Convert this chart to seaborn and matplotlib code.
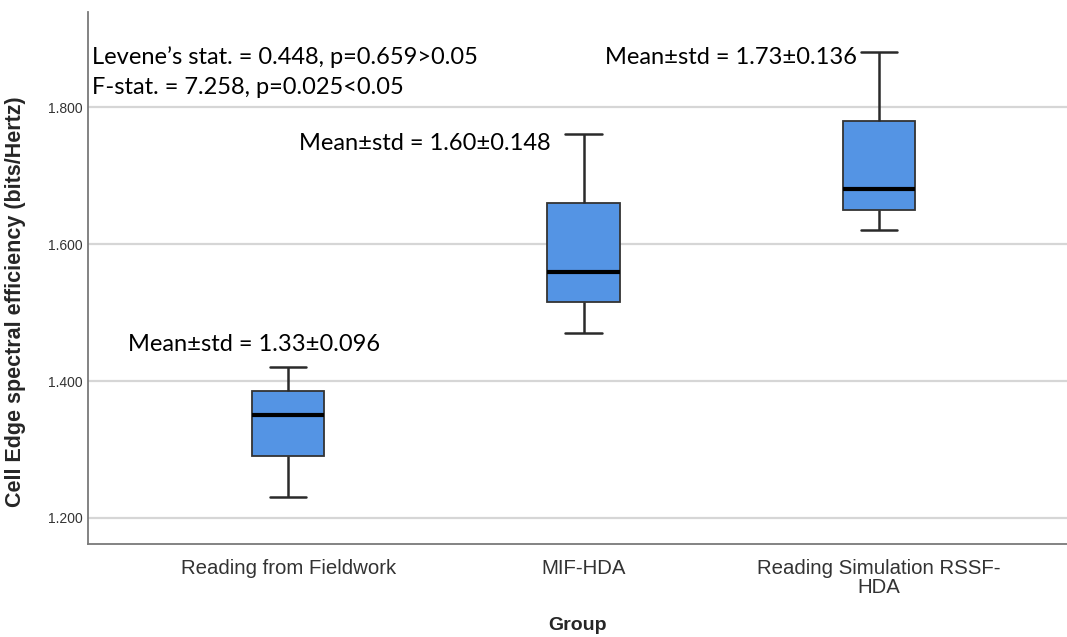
import pandas as pd
import matplotlib.pyplot as plt
import seaborn as sns

# five-number summaries (min, Q1, median, Q3, max)
groups = ["Reading from Fieldwork", "MIF-HDA", "Reading Simulation RSSF-\nHDA"]
fieldwork = [1.231, 1.290, 1.350, 1.386, 1.420]
mif_hda = [1.470, 1.515, 1.560, 1.660, 1.761]
rssf_hda = [1.620, 1.650, 1.680, 1.780, 1.880]
mean_std = ["Mean±std = 1.33±0.096", "Mean±std = 1.60±0.148", "Mean±std = 1.73±0.136"]
y_ticks = [1.2, 1.4, 1.6, 1.8]

sns.set_theme(style="white")
plt.rcParams['font.family'] = ['Liberation Sans', 'DejaVu Sans']

df = pd.DataFrame({
    "Group": [groups[0]] * len(fieldwork) + [groups[1]] * len(mif_hda) + [groups[2]] * len(rssf_hda),
    "value": fieldwork + mif_hda + rssf_hda,
})

fig = plt.figure(figsize=(10.67, 6.37), dpi=100)
ax = fig.add_axes([0.0825, 0.146, 0.9175, 0.835])

sns.boxplot(data=df, x="Group", y="value", ax=ax, order=groups,
            color="#5494e4", saturation=1, width=0.245, whis=(0, 100),
            linecolor="#333333", linewidth=1.3,
            medianprops=dict(color="black", linewidth=3),
            whiskerprops=dict(color="#2a2a2a", linewidth=1.8),
            capprops=dict(color="#2a2a2a", linewidth=1.8))

ax.set_xlim(-0.677, 2.636)
ax.set_ylim(1.162, 1.939)
ax.set_yticks(y_ticks)
ax.set_yticklabels([f"{t:.3f}" for t in y_ticks], fontsize=10, color="#333333")
ax.tick_params(axis='x', labelsize=14.7, colors="#333333", pad=11, length=0)
ax.tick_params(axis='y', length=0, pad=4)
for lab in ax.get_xticklabels():
    lab.set_linespacing(0.95)

ax.yaxis.grid(True, color="#d6d6d6", linewidth=1.6)
ax.set_axisbelow(True)
for s in ["top", "right"]:
    ax.spines[s].set_visible(False)
for s in ["left", "bottom"]:
    ax.spines[s].set_color("#7a7a7a")
    ax.spines[s].set_linewidth(1.3)

ax.set_xlabel("Group", fontsize=14, fontweight="bold", labelpad=15)
ax.set_ylabel("Cell Edge spectral efficiency (bits/Hertz)", fontsize=15.5, fontweight="bold")
ax.yaxis.set_label_coords(-0.063, 0.455)

# annotations
afont = dict(family=['Lato', 'DejaVu Sans'], fontsize=17, color="black")
ax.text(-0.663, 1.873, "Levene’s stat. = 0.448, p=0.659>0.05", ha="left", va="center", **afont)
ax.text(-0.663, 1.829, "F-stat. = 7.258, p=0.025<0.05", ha="left", va="center", **afont)
ax.text(-0.541, 1.453, mean_std[0], ha="left", va="center", **afont)
ax.text(0.89, 1.747, mean_std[1], ha="right", va="center", **afont)
ax.text(1.926, 1.873, mean_std[2], ha="right", va="center", **afont)

fig.savefig("out.png", dpi=100)
